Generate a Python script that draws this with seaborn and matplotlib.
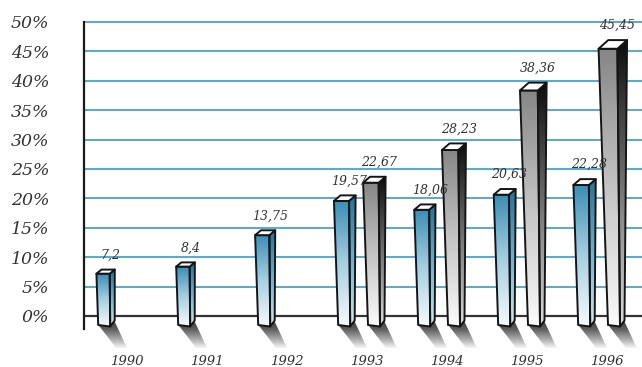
import numpy as np
import pandas as pd
import matplotlib
matplotlib.use("Agg")
import matplotlib.pyplot as plt
import seaborn as sns
from matplotlib.patches import Polygon
from matplotlib.colors import LinearSegmentedColormap
from matplotlib.transforms import ScaledTranslation

# ---------------- data ----------------
years = ["1990", "1991", "1992", "1993", "1994", "1995", "1996"]
series_a = [7.2, 8.4, 13.75, 19.57, 18.06, 20.63, 22.28]
years_b = ["1993", "1994", "1995", "1996"]
series_b = [22.67, 28.23, 38.36, 45.45]
y_ticks = [0, 5, 10, 15, 20, 25, 30, 35, 40, 45, 50]
y_tick_labels = [f"{v}%" for v in y_ticks]

df = pd.DataFrame({
    "year": years + years_b,
    "value": series_a + series_b,
    "series": ["A"] * len(years) + ["B"] * len(years_b),
})

# ---------------- figure ----------------
sns.set_style("white")
plt.rcParams["font.family"] = ["DejaVu Serif", "DejaVu Sans"]

W, H = 642, 367
fig = plt.figure(figsize=(W / 100, H / 100), dpi=100)
ax_l, ax_r, ax_t, ax_b = 84, 642, 20, 352
ax = fig.add_axes([ax_l / W, (H - ax_b) / H, (ax_r - ax_l) / W, (ax_b - ax_t) / H])

sns.barplot(data=df, x="year", y="value", hue="series", order=years,
            hue_order=["A", "B"], width=0.745, gap=0.6, dodge=True,
            legend=False, palette=["#3a8fb7", "#8c8c8c"], ax=ax)

xlim = ((ax_l - 119.1) / 80.0, (ax_r - 119.1) / 80.0)
ylim = ((316 - ax_b) / 5.88, (316 - ax_t) / 5.88)
px = (xlim[1] - xlim[0]) / (ax_r - ax_l)
py = (ylim[1] - ylim[0]) / (ax_b - ax_t)

cmaps = {
    "front_A": LinearSegmentedColormap.from_list("fa", ["#f6fafc", "#a6cfe2", "#3a8db5"]),
    "side_A": LinearSegmentedColormap.from_list("sa", ["#d6e9f1", "#6fb0cf", "#236f95"]),
    "front_B": LinearSegmentedColormap.from_list("fb", ["#fbfbfb", "#c4c4c4", "#868686"]),
    "side_B": LinearSegmentedColormap.from_list("sb", ["#dcdcdc", "#707070", "#0c0c0c"]),
    "shadow": LinearSegmentedColormap.from_list("sh", ["#f6f6f6", "#a8a8a8", "#606060", "#3c3c3c"]),
}


def grad_poly(pts, cmap, z, edge=True):
    xs = [p[0] for p in pts]
    ys = [p[1] for p in pts]
    arr = np.linspace(0, 1, 256).reshape(-1, 1)
    im = ax.imshow(arr, extent=[min(xs), max(xs), min(ys), max(ys)], origin="lower",
                   cmap=cmap, aspect="auto", interpolation="bilinear", zorder=z)
    poly = Polygon(pts, closed=True, facecolor="none",
                   edgecolor="#151515" if edge else "none", lw=1.4,
                   joinstyle="round", zorder=z + 0.1)
    ax.add_patch(poly)
    im.set_clip_path(poly)
    return poly


b = -1.7
for key, cont in zip(["A", "B"], ax.containers):
    for p in cont.patches:
        v = p.get_height()
        if not np.isfinite(v) or v == 0:
            p.set_visible(False)
            continue
        xc = p.get_x() + p.get_width() / 2
        p.set_visible(False)
        hh = v - b
        bl = (xc - 6 * px, b + 1 * py)
        br = (xc + 6 * px, b - 0.5 * py)
        tr = (xc + (6 - 0.055 * hh) * px, v)
        tl = (xc - (6 + 0.2 * hh) * px, v)
        dxt, dyt = (4 + 0.12 * hh) * px, (3 + 0.12 * hh) * py
        dxb, dyb = 4.5 * px, 6 * py
        sb = (br[0] + dxb, br[1] + dyb)
        # shadow
        s1 = (bl[0] + 1 * px, bl[1] - 1 * py)
        s2 = (sb[0] - 0.5 * px, sb[1])
        s3 = (s2[0] + 13 * px, s2[1] - 28 * py)
        s4 = (s1[0] + 17 * px, s1[1] - 22 * py)
        grad_poly([s1, s2, s3, s4], cmaps["shadow"], 2, edge=False)
        # front face
        grad_poly([bl, br, tr, tl], cmaps["front_" + key], 3)
        # side face
        grad_poly([br, sb, (tr[0] + dxt, v + dyt), tr], cmaps["side_" + key], 3)
        # top face
        top = Polygon([tl, tr, (tr[0] + dxt, v + dyt), (tl[0] + dxt, v + dyt)],
                      closed=True, facecolor="white", edgecolor="#151515",
                      lw=1.4, joinstyle="round", zorder=3.3)
        ax.add_patch(top)
        # value label
        lx = (tl[0] + tr[0]) / 2 + (7 + 0.05 * hh) * px
        ly = v + (14 + 0.12 * hh) * py
        ax.text(lx, ly, f"{v:g}".replace(".", ","), ha="center", va="baseline",
                fontsize=9, style="italic", color="#333333", zorder=5)

# ---------------- axes styling ----------------
ax.set_xlim(*xlim)
ax.set_ylim(*ylim)
ax.set_yticks(y_ticks)
ax.set_yticklabels(y_tick_labels)
ax.set_xticks(range(len(years)))
ax.set_xticklabels(years)
ax.set_xlabel("")
ax.set_ylabel("")

ax.grid(axis="y", color="#4aa2c6", lw=1.3, zorder=0.5)
ax.grid(axis="x", visible=False)
ax.set_axisbelow(True)
ax.axhline(0, color="#333333", lw=1.6, zorder=1)

for side in ["top", "right", "bottom"]:
    ax.spines[side].set_visible(False)
ax.spines["left"].set_bounds(-2.2, 50)
ax.spines["left"].set_color("#1a1a1a")
ax.spines["left"].set_linewidth(1.6)

ax.tick_params(axis="y", length=13, width=1.6, color="#1a1a1a", pad=12,
               labelsize=12.5, labelcolor="#333333")
ax.tick_params(axis="x", length=0, pad=2, labelsize=9.5, labelcolor="#333333")
for lbl in ax.get_yticklabels() + ax.get_xticklabels():
    lbl.set_fontstyle("italic")
for lbl in ax.get_xticklabels():
    lbl.set_transform(lbl.get_transform() + ScaledTranslation(8 / 100, 0, fig.dpi_scale_trans))

fig.savefig("out.png", dpi=100)
